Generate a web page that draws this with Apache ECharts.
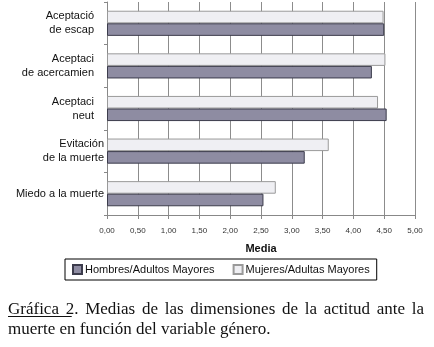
<!DOCTYPE html>
<html>
<head>
<meta charset="utf-8">
<script src="https://cdn.jsdelivr.net/npm/echarts@6/dist/echarts.min.js"></script>
<style>
  html, body { margin: 0; padding: 0; background: #fff; }
  #chart { width: 434px; height: 347px; }
</style>
</head>
<body>
<div id="chart"></div>
<script>
// categories listed bottom to top (category axis runs upward)
const categories = [
  'Miedo a la muerte',
  'Evitación\nde la muerte',
  'Aceptaci\nneut',
  'Aceptaci\nde acercamien',
  'Aceptació\nde escap',
]
// labels that are clipped in the original get pushed left a bit
const clippedLabels = ['Aceptaci\nneut', 'Aceptaci\nde acercamien', 'Aceptació\nde escap']

const hombres = [2.54, 3.21, 4.54, 4.30, 4.50]
const mujeres = [2.74, 3.60, 4.40, 4.52, 4.49]
const seriesNames = ['Hombres/Adultos Mayores', 'Mujeres/Adultas Mayores']

const captionLines = [
  'Gráfica 2. Medias de las dimensiones de la actitud ante la',
  'muerte en función del variable género.',
]

const chart = echarts.init(document.getElementById('chart'), null, { renderer: 'canvas' })

// justify caption line 1 across the width, like the printed page
const capFont = '17px "Liberation Serif", "Times New Roman", serif'
const ctx = document.createElement('canvas').getContext('2d')
ctx.font = capFont
const capLeft = 8, capRight = 424
const captionGraphics = []
captionLines.forEach((line, i) => {
  const y = 310 + i * 20
  const words = line.split(' ')
  const justify = i === 0
  let gap = ctx.measureText(' ').width
  if (justify) {
    const wordsW = words.reduce((s, w) => s + ctx.measureText(w).width, 0)
    gap = (capRight - capLeft - wordsW) / (words.length - 1)
  }
  let x = capLeft
  words.forEach(w => {
    captionGraphics.push({
      type: 'text', x, y,
      style: { text: w, font: capFont, fill: '#111', verticalAlign: 'middle' },
    })
    x += ctx.measureText(w).width + gap
  })
})
// underline under "Gráfica 2"
const ulW = ctx.measureText('Gráfica').width + ctx.measureText(' ').width + ctx.measureText('2').width
captionGraphics.push({
  type: 'line',
  shape: { x1: capLeft, y1: 316.5, x2: capLeft + ulW, y2: 316.5 },
  style: { stroke: '#111', lineWidth: 1 },
})

const option = {
  animation: false,
  textStyle: { fontFamily: '"Liberation Sans", Arial, sans-serif' },
  grid: { left: 107, right: 19, top: 2, bottom: 132 },
  legend: {
    data: seriesNames,
    left: 65, top: 259,
    padding: [5, 7, 5, 7],
    itemWidth: 9, itemHeight: 9,
    itemGap: 18,
    borderColor: '#000', borderWidth: 1,
    textStyle: { color: '#111', fontSize: 11, padding: [0, 0, 0, -2] },
    icon: 'rect',
  },
  xAxis: {
    type: 'value',
    min: 0, max: 5, interval: 0.5,
    name: 'Media',
    nameLocation: 'middle',
    nameGap: 28,
    nameTextStyle: { color: '#111', fontSize: 11, fontWeight: 'bold' },
    axisLine: { show: true, lineStyle: { color: '#888' } },
    axisTick: { show: true, length: 4, lineStyle: { color: '#888' } },
    axisLabel: {
      color: '#333', fontSize: 8, margin: 12,
      formatter: v => v.toFixed(2).replace('.', ','),
    },
    splitLine: { show: true, lineStyle: { color: '#8c8c8c', width: 1 } },
  },
  yAxis: {
    type: 'category',
    data: categories,
    axisLine: { show: true, lineStyle: { color: '#888' } },
    axisTick: { show: true, length: 3, lineStyle: { color: '#888' } },
    axisLabel: {
      color: '#111', fontSize: 11, margin: 3, lineHeight: 14,
      formatter: v => {
        const style = clippedLabels.includes(v) ? 'c' : 'n'
        return v.split('\n').map(s => `{${style}|${s}}`).join('\n')
      },
      rich: {
        c: { fontSize: 11, lineHeight: 14, padding: [0, 10, 0, 0] },
        n: { fontSize: 11, lineHeight: 14 },
      },
    },
    splitLine: { show: false },
  },
  // Mujeres first so it sits on top within each category band
  series: [
    {
      name: seriesNames[1],
      type: 'bar',
      data: mujeres,
      barGap: '0%',
      barCategoryGap: '41%',
      itemStyle: { color: '#efeff3', borderColor: '#9a9a9a', borderWidth: 1 },
    },
    {
      name: seriesNames[0],
      type: 'bar',
      data: hombres,
      itemStyle: { color: '#8e8ca2', borderColor: '#3c3c4c', borderWidth: 1 },
    },
  ],
  graphic: captionGraphics,
}

chart.setOption(option)
</script>
</body>
</html>
